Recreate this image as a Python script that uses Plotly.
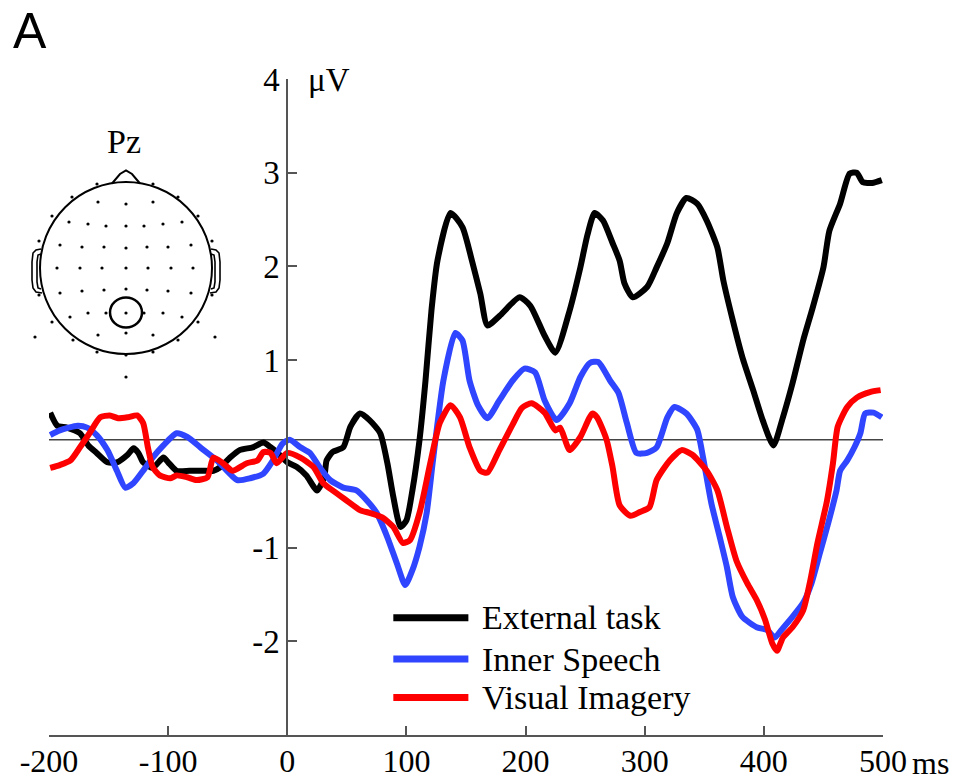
import plotly.graph_objects as go

# ---------------- data ----------------
ext_ms = [-199, -193, -185, -174, -167, -160, -151, -143, -134, -129, -125, -121, -113, -104, -100, -93, -82,
          -71, -62, -56, -48, -40, -29, -20, -14, -9, 0, 8, 16, 25, 31, 33, 38, 47, 53, 61, 69, 78, 84, 89,
          95, 100, 105, 111, 116, 121, 126, 137, 147, 155, 162, 168, 178, 195, 204, 216, 225, 237, 246, 252,
          258, 265, 273, 279, 283, 290, 302, 310, 319, 327, 335, 344, 352, 361, 366, 374, 382, 391, 399, 408,
          416, 424, 433, 441, 450, 455, 464, 472, 478, 483, 491, 499]
ext_uv = [0.44, 0.30, 0.28, 0.22, 0.09, 0.01, -0.09, -0.09, -0.01, 0.06, 0.01, -0.09, -0.15, -0.04, -0.09, -0.18,
          -0.18, -0.18, -0.18, -0.14, -0.04, 0.04, 0.07, 0.12, 0.07, 0.02, -0.09, -0.14, -0.23, -0.39, -0.25,
          -0.07, 0.02, 0.07, 0.29, 0.43, 0.36, 0.22, -0.10, -0.46, -0.78, -0.71, -0.39, 0.15, 0.78, 1.53, 2.06,
          2.57, 2.42, 2.06, 1.71, 1.37, 1.47, 1.67, 1.58, 1.26, 1.08, 1.53, 1.99, 2.34, 2.57, 2.49, 2.25, 2.06,
          1.82, 1.67, 1.78, 1.99, 2.25, 2.57, 2.73, 2.67, 2.49, 2.20, 1.85, 1.42, 1.03, 0.68, 0.36, 0.09, 0.39,
          0.75, 1.21, 1.56, 1.99, 2.38, 2.67, 2.99, 3.00, 2.90, 2.89, 2.92]

inn_ms = [-199, -191, -176, -168, -160, -151, -143, -136, -129, -121, -113, -104, -93, -84, -73, -59, -42, -31,
          -20, -12, -4, 2, 11, 19, 27, 36, 47, 58, 67, 75, 84, 92, 99, 105, 111, 117, 122, 131, 141, 147, 153,
          160, 168, 178, 189, 199, 208, 216, 226, 237, 246, 254, 261, 271, 278, 285, 293, 302, 310, 319, 325,
          335, 344, 349, 356, 363, 369, 374, 382, 394, 403, 409, 416, 424, 433, 440, 447, 454, 461, 464, 470,
          476, 481, 485, 492, 499]
inn_uv = [0.20, 0.25, 0.30, 0.28, 0.20, 0.04, -0.18, -0.36, -0.31, -0.18, -0.04, 0.09, 0.22, 0.18, 0.07, -0.07,
          -0.28, -0.26, -0.21, -0.07, 0.11, 0.15, 0.07, 0.01, -0.14, -0.28, -0.36, -0.39, -0.50, -0.63, -0.89,
          -1.17, -1.40, -1.24, -0.99, -0.63, -0.10, 0.78, 1.29, 1.21, 0.78, 0.52, 0.38, 0.57, 0.78, 0.91, 0.87,
          0.57, 0.36, 0.54, 0.82, 0.97, 0.98, 0.78, 0.65, 0.33, 0.01, 0.01, 0.07, 0.39, 0.50, 0.43, 0.26, -0.04,
          -0.53, -0.89, -1.21, -1.53, -1.74, -1.85, -1.88, -1.96, -1.86, -1.74, -1.59, -1.38, -1.06, -0.74,
          -0.39, -0.18, -0.07, 0.07, 0.22, 0.43, 0.44, 0.39]

vis_ms = [-199, -191, -182, -174, -166, -157, -149, -142, -134, -126, -121, -117, -113, -107, -98, -93, -84, -76,
          -67, -62, -54, -46, -34, -25, -20, -14, -9, 0, 11, 22, 30, 38, 50, 61, 69, 80, 89, 97, 103, 111, 120,
          128, 137, 145, 153, 162, 168, 178, 189, 197, 205, 216, 225, 229, 237, 246, 256, 260, 268, 273, 279,
          288, 296, 304, 310, 321, 331, 340, 352, 361, 369, 377, 386, 394, 401, 407, 411, 416, 424, 433, 439,
          445, 453, 458, 462, 470, 478, 489, 498]
vis_uv = [-0.15, -0.12, -0.07, 0.07, 0.22, 0.39, 0.41, 0.38, 0.39, 0.41, 0.33, 0.07, -0.14, -0.23, -0.26, -0.23,
          -0.25, -0.28, -0.25, -0.04, -0.10, -0.18, -0.10, -0.07, 0.02, 0.01, -0.10, 0.01, -0.04, -0.14, -0.31,
          -0.39, -0.50, -0.60, -0.63, -0.68, -0.78, -0.95, -0.92, -0.63, -0.10, 0.33, 0.52, 0.39, 0.07, -0.18,
          -0.20, 0.04, 0.31, 0.49, 0.54, 0.44, 0.25, 0.28, 0.04, 0.18, 0.43, 0.39, 0.15, -0.14, -0.55, -0.66,
          -0.62, -0.57, -0.28, -0.07, 0.04, -0.01, -0.18, -0.39, -0.78, -1.14, -1.38, -1.56, -1.77, -2.02,
          -2.10, -1.96, -1.85, -1.67, -1.35, -0.95, -0.50, -0.10, 0.29, 0.50, 0.60, 0.66, 0.68]

series_names = ["External task", "Inner Speech", "Visual Imagery"]
series_colors = ["#000000", "#2f45ff", "#ff0000"]
x_tick_vals = [-200, -100, 0, 100, 200, 300, 400, 500]
x_tick_text = ["-200", "-100", "0", "100", "200", "300", "400", "500"]
y_tick_vals = [-2, -1, 1, 2, 3, 4]
y_tick_text = ["-2", "-1", "1", "2", "3", "4"]
baseline_uv = 0.15
electrode_label = "Pz"
panel_label = "A"

# ---------------- layout constants ----------------
W, H = 957, 781
ML, MR, MT, MB = 49, 74, 79, 46
PW, PH = W - ML - MR, H - MT - MB
SERIF = "Liberation Serif, Times New Roman, serif"
AXC = "#555555"


def PX(px):
    return (px - ML) / PW


def PY(py):
    return (H - MB - py) / PH


fig = go.Figure()
for xs, ys, name, col in zip([ext_ms, inn_ms, vis_ms], [ext_uv, inn_uv, vis_uv], series_names, series_colors):
    fig.add_trace(go.Scatter(x=xs, y=ys, mode="lines", name=name,
                             line=dict(color=col, width=6, shape="spline", smoothing=0.6),
                             showlegend=False, hoverinfo="skip"))

shapes = []
annotations = []

# baseline
shapes.append(dict(type="line", xref="x", yref="y", x0=-200, x1=500, y0=baseline_uv, y1=baseline_uv,
                   line=dict(color="#444444", width=1.5), layer="below"))

# manual legend
leg_x0, leg_x1, leg_tx = 89, 152, 162
leg_y = [-1.75, -2.19, -2.60]
for name, col, yy in zip(series_names, series_colors, leg_y):
    shapes.append(dict(type="line", xref="x", yref="y", x0=leg_x0, x1=leg_x1, y0=yy, y1=yy,
                       line=dict(color=col, width=7)))
    annotations.append(dict(x=leg_tx, y=yy, xref="x", yref="y", text=name, showarrow=False,
                            xanchor="left", yanchor="middle", font=dict(family=SERIF, size=34, color="black")))

# head schematic (pixel geometry converted to paper coords)
hcx, hcy, hr = 126, 268, 86
shapes.append(dict(type="circle", xref="paper", yref="paper", x0=PX(hcx - hr), x1=PX(hcx + hr),
                   y0=PY(hcy + hr), y1=PY(hcy - hr), line=dict(color="black", width=2)))


def path_from(points, close=False):
    s = "M " + " L ".join(f"{PX(x):.5f},{PY(y):.5f}" for x, y in points)
    return s + (" Z" if close else "")


nose = [(112, 183.5), (120, 174), (126, 170.5), (132, 174), (140, 183.5)]
shapes.append(dict(type="path", xref="paper", yref="paper", path=path_from(nose),
                   line=dict(color="black", width=2)))
left_ear = [(41, 249), (36, 250), (33, 253), (32, 262), (32, 280), (33, 288), (36, 292), (42, 293)]
left_ear_in = [(41, 254), (38, 255), (37, 262), (37, 282), (38, 288), (41, 289)]
for ear in (left_ear, left_ear_in):
    for pts in (ear, [(2 * hcx - x, y) for x, y in ear]):
        shapes.append(dict(type="path", xref="paper", yref="paper", path=path_from(pts),
                           line=dict(color="black", width=1.6)))

# electrode marker circle
pcx, pcy = 126, 312.5
shapes.append(dict(type="circle", xref="paper", yref="paper", x0=PX(pcx - 16), x1=PX(pcx + 16),
                   y0=PY(pcy + 15), y1=PY(pcy - 15), line=dict(color="black", width=2.5)))

electrodes = [(97, 184), (153, 184), (72, 197), (178, 197), (98, 202), (126, 204), (153, 202), (52, 216),
              (198, 216), (69, 222), (88, 224), (106, 226), (126, 226), (144, 226), (163, 224), (182, 222),
              (39, 241), (212, 241), (60, 245), (82, 247), (104, 247), (126, 248), (147, 247), (168, 247),
              (191, 245), (57, 268), (80, 268), (102, 268), (126, 268), (148, 268), (171, 268), (193, 268),
              (39, 295), (212, 295), (60, 293), (82, 291), (104, 290), (126, 289), (147, 290), (168, 291),
              (191, 293), (52, 322), (198, 322), (70, 317), (88, 313), (106, 313), (126, 313), (144, 313),
              (163, 313), (182, 317), (35, 337), (215, 337), (73, 340), (178, 340), (98, 335), (126, 333),
              (153, 335), (97, 352), (126, 355), (153, 352), (126, 377)]
for ex, ey in electrodes:
    shapes.append(dict(type="circle", xref="paper", yref="paper", x0=PX(ex - 1.6), x1=PX(ex + 1.6),
                       y0=PY(ey + 1.6), y1=PY(ey - 1.6), fillcolor="black", line=dict(width=0)))

annotations += [
    dict(x=PX(11), y=PY(31), xref="paper", yref="paper", text=panel_label, showarrow=False,
         xanchor="left", yanchor="middle", font=dict(family="Liberation Sans, Arial, sans-serif", size=50,
                                                     color="black")),
    dict(x=PX(124), y=PY(141), xref="paper", yref="paper", text=electrode_label, showarrow=False,
         xanchor="center", yanchor="middle", font=dict(family=SERIF, size=34, color="black")),
    dict(x=PX(306), y=PY(80), xref="paper", yref="paper", text="μV", showarrow=False,
         xanchor="left", yanchor="middle", font=dict(family=SERIF, size=33, color="black")),
    dict(x=PX(910), y=PY(763), xref="paper", yref="paper", text="ms", showarrow=False,
         xanchor="left", yanchor="middle", font=dict(family=SERIF, size=32, color="black")),
]

fig.update_layout(
    width=W, height=H, margin=dict(l=ML, r=MR, t=MT, b=MB, autoexpand=False),
    paper_bgcolor="white", plot_bgcolor="white",
    xaxis=dict(range=[-200, 500], showline=True, linecolor=AXC, linewidth=2, ticks="inside", ticklen=9,
               tickwidth=2, tickcolor=AXC, tickvals=x_tick_vals, ticktext=x_tick_text, showgrid=False,
               zeroline=False, ticklabelstandoff=-3, tickfont=dict(family=SERIF, size=32, color="black")),
    yaxis=dict(range=[-3, 4], anchor="free", position=200 / 700, showline=True, linecolor=AXC, linewidth=2,
               ticks="inside", ticklen=9, tickwidth=2, tickcolor=AXC, tickvals=y_tick_vals,
               ticktext=y_tick_text, showgrid=False, zeroline=False,
               tickfont=dict(family=SERIF, size=33, color="black")),
    shapes=shapes, annotations=annotations, showlegend=False,
)

fig.write_html("out.html")
